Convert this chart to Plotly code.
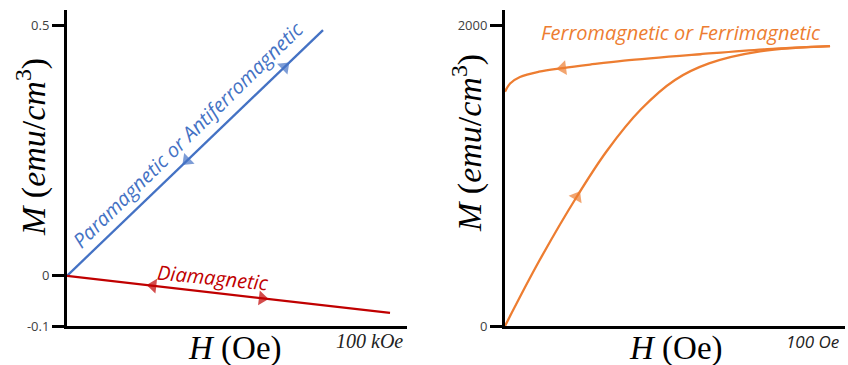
import numpy as np
import plotly.graph_objects as go

# ---------------- data ----------------
# Left panel (H in kOe, M in emu/cm^3)
para_H = [0, 75.3]
para_M = [0, 0.49]
dia_H = [0, 95.0]
dia_M = [0, -0.074]
left_yticks = [-0.1, 0, 0.5]
left_yticktext = ["-0.1", "0", "0.5"]

# Right panel (H in Oe, M in emu/cm^3)
init_H = [0, 10, 21.1, 30, 40, 50, 60, 75, 95.6]
init_M = [0, 430, 859, 1165, 1440, 1635, 1745, 1825, 1860]
ret_H = [95.6, 77.1, 57.4, 35, 25, 17, 10, 4.4, 1.5, 0]
ret_M = [1860, 1840, 1806, 1763, 1737, 1714, 1690, 1655, 1612, 1557]
right_yticks = [0, 2000]
right_yticktext = ["0", "2000"]

# arrow positions (H value along curve, direction of travel)
para_arrows = [(64.0, 1), (35.3, -1)]
dia_arrows = [(25.3, -1), (57.4, 1)]
init_arrows = [(21.1, 1)]
ret_arrows = [(17.0, -1)]

BLUE = "#4472C4"
RED = "#C00000"
ORANGE = "#ED7D31"

fig = go.Figure()


def add_curve(H, M, color, xa, ya, spline=False):
    fig.add_trace(go.Scatter(
        x=H, y=M, mode="lines", xaxis=xa, yaxis=ya,
        line=dict(color=color, width=2.3, shape="spline" if spline else "linear",
                  smoothing=1.0),
        hoverinfo="skip", showlegend=False))


def add_arrows(H, M, arrows, color, xa, ya):
    order = np.argsort(H)
    Hs = np.asarray(H, float)[order]
    Ms = np.asarray(M, float)[order]
    for h, d in arrows:
        h0 = h - d * 0.6
        fig.add_trace(go.Scatter(
            x=[h0, h], y=[np.interp(h0, Hs, Ms), np.interp(h, Hs, Ms)],
            mode="markers", xaxis=xa, yaxis=ya,
            marker=dict(symbol="triangle-up", size=[0, 13], color=color,
                        angleref="previous", line=dict(width=0)),
            hoverinfo="skip", showlegend=False))


add_curve(para_H, para_M, BLUE, "x", "y")
add_curve(dia_H, dia_M, RED, "x", "y")
add_arrows(para_H, para_M, para_arrows, BLUE, "x", "y")
add_arrows(dia_H, dia_M, dia_arrows, RED, "x", "y")

add_curve(init_H, init_M, ORANGE, "x2", "y2", spline=True)
add_curve(ret_H, ret_M, ORANGE, "x2", "y2", spline=True)
add_arrows(init_H, init_M, init_arrows, ORANGE, "x2", "y2")
add_arrows(ret_H, ret_M, ret_arrows, ORANGE, "x2", "y2")

W, Hpx = 848, 365
ydom = [(Hpx - 326) / Hpx, (Hpx - 10) / Hpx]

axis_common = dict(showgrid=False, zeroline=False, showline=True,
                   linecolor="black", linewidth=3, automargin=False)
tickfont = dict(family="Open Sans, Lato, sans-serif", size=13, color="#404040")

fig.update_layout(
    width=W, height=Hpx, autosize=False,
    margin=dict(l=0, r=0, t=0, b=0, pad=0),
    paper_bgcolor="white", plot_bgcolor="white",
    xaxis=dict(domain=[67 / W, 407 / W], range=[0, 100], showticklabels=False,
               ticks="", anchor="y", **axis_common),
    yaxis=dict(domain=ydom, range=[-0.1, 0.53], tickvals=left_yticks,
               ticktext=left_yticktext, ticks="outside", ticklen=12, tickwidth=3,
               tickcolor="black", tickfont=tickfont, anchor="x", **axis_common),
    xaxis2=dict(domain=[505 / W, 845 / W], range=[0, 100], showticklabels=False,
                ticks="", anchor="y2", **axis_common),
    yaxis2=dict(domain=ydom, range=[0, 2100], tickvals=right_yticks,
                ticktext=right_yticktext, ticks="outside", ticklen=12, tickwidth=3,
                tickcolor="black", tickfont=tickfont, anchor="x2", **axis_common),
)

serif = "Liberation Serif, DejaVu Serif, serif"
sans = "Open Sans, Lato, sans-serif"
ytitle = "<i>M</i> (<i>emu</i>/<i>cm</i><sup>3</sup>)"
xtitle = "<i>H</i> (Oe)"

ann = []
# axis titles
ann.append(dict(x=31 / W, y=1 - 147 / Hpx, text=ytitle, textangle=-90,
                font=dict(family=serif, size=34, color="black")))
ann.append(dict(x=467 / W, y=1 - 143 / Hpx, text=ytitle, textangle=-90,
                font=dict(family=serif, size=34, color="black")))
ann.append(dict(x=235 / W, y=1 - 348 / Hpx, text=xtitle,
                font=dict(family=serif, size=33, color="black")))
ann.append(dict(x=676 / W, y=1 - 348 / Hpx, text=xtitle,
                font=dict(family=serif, size=33, color="black")))
ann.append(dict(x=369 / W, y=1 - 341 / Hpx, text="<i>100 kOe</i>",
                font=dict(family=serif, size=20, color="#222222")))
ann.append(dict(x=812 / W, y=1 - 341 / Hpx, text="<i>100 Oe</i>",
                font=dict(family=sans, size=17, color="#222222")))
for a in ann:
    a.update(xref="paper", yref="paper", showarrow=False,
             xanchor="center", yanchor="middle")

# curve labels
labels = [
    dict(x=35.6, y=0.281, xref="x", yref="y", text="<i>Paramagnetic or Antiferromagnetic</i>",
         textangle=-44.4, font=dict(family=sans, size=20, color=BLUE)),
    dict(x=42.9, y=-0.004, xref="x", yref="y", text="<i>Diamagnetic</i>",
         textangle=5.7, font=dict(family=sans, size=20, color=RED)),
    dict(x=51.8, y=1953, xref="x2", yref="y2", text="<i>Ferromagnetic or Ferrimagnetic</i>",
         textangle=0, font=dict(family=sans, size=20, color=ORANGE)),
]
for a in labels:
    a.update(showarrow=False, xanchor="center", yanchor="middle")
    ann.append(a)

fig.update_layout(annotations=ann)
fig.write_html("out.html")
